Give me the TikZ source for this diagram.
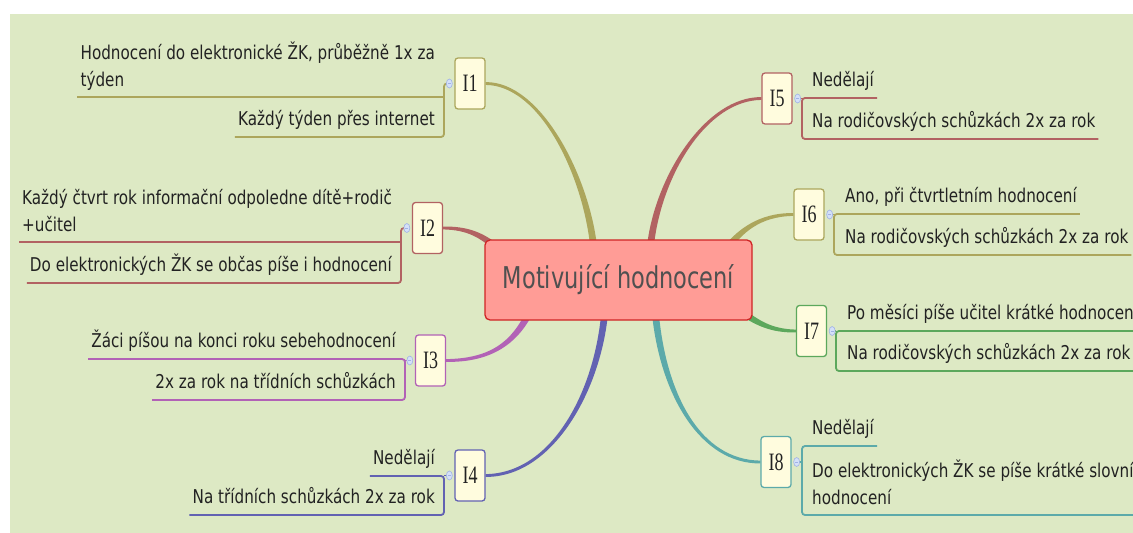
\documentclass[tikz,border=0pt]{standalone}
\usepackage{fontspec}
\usetikzlibrary{calc,shapes.geometric}
\newfontfamily\leaffont[FakeStretch=0.8]{DejaVu Sans}
\newfontfamily\rootfont[FakeStretch=0.75]{DejaVu Sans}
\newfontfamily\topicfont[FakeStretch=0.72]{Liberation Serif}

\definecolor{bgfill}{RGB}{221,233,196}
\definecolor{olive}{RGB}{172,166,92}
\definecolor{brick}{RGB}{178,98,98}
\definecolor{plum}{RGB}{178,98,182}
\definecolor{indigo}{RGB}{98,98,178}
\definecolor{leafgreen}{RGB}{92,168,92}
\definecolor{teal}{RGB}{92,170,170}
\definecolor{topicfill}{RGB}{255,252,222}
\definecolor{rootfill}{RGB}{255,156,150}
\definecolor{rootline}{RGB}{208,36,36}
\definecolor{markerfill}{RGB}{212,224,248}
\definecolor{markerline}{RGB}{160,178,230}
\definecolor{textdark}{RGB}{34,34,34}
\definecolor{roottext}{RGB}{80,80,80}

\pgfdeclarelayer{paper}
\pgfdeclarelayer{links}
\pgfsetlayers{paper,links,main}

\tikzset{
  rootbox/.style={draw=rootline, line width=1.3pt, fill=rootfill, rounded corners=5pt,
    minimum width=267pt, minimum height=80pt, inner sep=0pt,
    font=\rootfont\fontsize{30}{30}\selectfont, text=roottext},
  topic/.style={draw, line width=1.3pt, fill=topicfill, rounded corners=3pt,
    minimum width=30pt, minimum height=51pt, inner sep=0pt,
    font=\topicfont\fontsize{25}{25}\selectfont, text=textdark},
  leaf/.style={inner sep=0pt, font=\leaffont\fontsize{19}{27}\selectfont, text=textdark},
  rule/.style={line width=1.8pt},
  marker/.style={ellipse, inner sep=0pt, minimum width=6pt, minimum height=9pt,
    fill=markerfill, draw=markerline, line width=0.6pt,
    path picture={\draw[markerline, line width=0.6pt]
      ([xshift=-1.5pt]path picture bounding box.center) -- ([xshift=1.5pt]path picture bounding box.center);}},
}

% A tapered branch: fill colour, start, first control, second control, end.
% It is thin at the start and widens towards the end.
\newcommand\taperlink[5]{%
  \fill[#1] ($(#2)!1.4pt!90:(#3)$)
    .. controls ($(#3)!2pt!-90:(#2)$) and ($(#4)!3pt!90:(#5)$) .. ($(#5)!3.4pt!-90:(#4)$)
    -- ($(#5)!3.4pt!90:(#4)$)
    .. controls ($(#4)!3pt!-90:(#5)$) and ($(#3)!2pt!90:(#2)$) .. ($(#2)!1.4pt!-90:(#3)$)
    -- cycle;}

\begin{document}
\begin{tikzpicture}[x=1pt,y=-1pt]
\useasboundingbox (0,0) rectangle (1133,533);
\clip (0,0) rectangle (1133,533);
\begin{pgfonlayer}{paper}
  \fill[bgfill] (10,14) rectangle (1133,533);
\end{pgfonlayer}

% central topic
\node[rootbox] (root) at (618.5,280) {Motivující hodnocení};

% main topics
\node[topic, draw=olive]     (t1) at (470,83.5)   {I1};
\node[topic, draw=brick]     (t2) at (427.5,228)  {I2};
\node[topic, draw=plum]      (t3) at (430.5,360.5){I3};
\node[topic, draw=indigo]    (t4) at (470,475.5)  {I4};
\node[topic, draw=brick]     (t5) at (777,98.5)   {I5};
\node[topic, draw=olive]     (t6) at (809,214.5)  {I6};
\node[topic, draw=leafgreen] (t7) at (811.5,331)  {I7};
\node[topic, draw=teal]      (t8) at (776,462)    {I8};

% branch geometry: s = start at the topic, p/q = controls, e = end inside the central topic
\coordinate (s1) at (t1.east); \coordinate (e1) at ($(root.north)+(-25,6)$);
\coordinate (p1) at ($(s1)+(55,0)$); \coordinate (q1) at ($(e1)+(-8,-70)$);
\coordinate (s2) at (t2.east); \coordinate (e2) at ($(root.north west)+(12,8)$);
\coordinate (p2) at ($(s2)+(25,0)$); \coordinate (q2) at ($(e2)+(-15,-12)$);
\coordinate (s3) at (t3.east); \coordinate (e3) at ($(root.south west)+(45,-8)$);
\coordinate (p3) at ($(s3)+(45,0)$); \coordinate (q3) at ($(e3)+(-15,30)$);
\coordinate (s4) at (t4.east); \coordinate (e4) at ($(root.south)+(-14,-6)$);
\coordinate (p4) at ($(s4)+(65,0)$); \coordinate (q4) at ($(e4)+(-8,80)$);
\coordinate (s5) at (t5.west); \coordinate (e5) at ($(root.north)+(32,6)$);
\coordinate (p5) at ($(s5)+(-55,0)$); \coordinate (q5) at ($(e5)+(8,-70)$);
\coordinate (s6) at (t6.west); \coordinate (e6) at ($(root.north east)+(-25,8)$);
\coordinate (p6) at ($(s6)+(-35,0)$); \coordinate (q6) at ($(e6)+(12,-15)$);
\coordinate (s7) at (t7.west); \coordinate (e7) at ($(root.south east)+(-10,-8)$);
\coordinate (p7) at ($(s7)+(-25,0)$); \coordinate (q7) at ($(e7)+(15,10)$);
\coordinate (s8) at (t8.west); \coordinate (e8) at ($(root.south)+(37,-6)$);
\coordinate (p8) at ($(s8)+(-60,0)$); \coordinate (q8) at ($(e8)+(8,80)$);

\begin{pgfonlayer}{links}
  \taperlink{olive}{s1}{p1}{q1}{e1}
  \taperlink{brick}{s2}{p2}{q2}{e2}
  \taperlink{plum}{s3}{p3}{q3}{e3}
  \taperlink{indigo}{s4}{p4}{q4}{e4}
  \taperlink{brick}{s5}{p5}{q5}{e5}
  \taperlink{olive}{s6}{p6}{q6}{e6}
  \taperlink{leafgreen}{s7}{p7}{q7}{e7}
  \taperlink{teal}{s8}{p8}{q8}{e8}
\end{pgfonlayer}

% ---------- I1 ----------
\node[leaf, anchor=south east, align=left] (a1) at (435,95) {Hodnocení do elektronické ŽK, průběžně 1x za\\týden\strut};
\node[leaf, anchor=base east] (b1) at (435,125) {Každý týden přes internet};
\coordinate (k1) at (444,83.5);
\coordinate (k1a) at (444,97);
\coordinate (k1b) at (444,137);
\draw[rule, olive, rounded corners=3pt] ($(t1.west)+(-5,0)$) -- (k1) -- (k1b) -- ([xshift=-3pt]b1.west |- k1b);
\draw[rule, olive] (k1a) -- ([xshift=-3pt]a1.west |- k1a);
\node[marker] (m1) at ($(t1.west)+(-5,0)$) {};

% ---------- I2 ----------
\node[leaf, anchor=south east, align=left] (a2) at (392,240) {Každý čtvrt rok informační odpoledne dítě+rodič\\+učitel\strut};
\node[leaf, anchor=base east] (b2) at (392,271) {Do elektronických ŽK se občas píše i hodnocení};
\coordinate (k2) at (401,228);
\coordinate (k2a) at (401,242);
\coordinate (k2b) at (401,283);
\draw[rule, brick, rounded corners=3pt] ($(t2.west)+(-5,0)$) -- (k2) -- (k2b) -- ([xshift=-3pt]b2.west |- k2b);
\draw[rule, brick] (k2a) -- ([xshift=-3pt]a2.west |- k2a);
\node[marker] (m2) at ($(t2.west)+(-5,0)$) {};

% ---------- I3 ----------
\node[leaf, anchor=base east] (a3) at (396,347) {Žáci píšou na konci roku sebehodnocení};
\node[leaf, anchor=base east] (b3) at (396,388) {2x za rok na třídních schůzkách};
\coordinate (k3a) at (405,359);
\coordinate (k3b) at (405,400);
\draw[rule, plum, rounded corners=3pt] ([xshift=-3pt]a3.west |- k3a) -- (k3a) -- (k3b) -- ([xshift=-3pt]b3.west |- k3b);
\draw[rule, plum] ($(t3.west)+(-5,0)$) -- (405,360.5);
\node[marker] (m3) at ($(t3.west)+(-5,0)$) {};

% ---------- I4 ----------
\node[leaf, anchor=base east] (a4) at (435,464) {Nedělají};
\node[leaf, anchor=base east] (b4) at (435,503) {Na třídních schůzkách 2x za rok};
\coordinate (k4a) at (444,476);
\coordinate (k4b) at (444,515);
\draw[rule, indigo, rounded corners=3pt] ([xshift=-3pt]a4.west |- k4a) -- (k4a) -- (k4b) -- ([xshift=-3pt]b4.west |- k4b);
\draw[rule, indigo] ($(t4.west)+(-5,0)$) -- (444,475.5);
\node[marker] (m4) at ($(t4.west)+(-5,0)$) {};

% ---------- I5 ----------
\node[leaf, anchor=base west] (a5) at (812,86) {Nedělají};
\node[leaf, anchor=base west] (b5) at (812,127) {Na rodičovských schůzkách 2x za rok};
\coordinate (k5a) at (802,98);
\coordinate (k5b) at (802,139);
\draw[rule, brick, rounded corners=3pt] ([xshift=3pt]a5.east |- k5a) -- (k5a) -- (k5b) -- ([xshift=3pt]b5.east |- k5b);
\draw[rule, brick] ($(t5.east)+(5,0)$) -- (802,98.5);
\node[marker] (m5) at ($(t5.east)+(5,0)$) {};

% ---------- I6 ----------
\node[leaf, anchor=base west] (a6) at (845,202) {Ano, při čtvrtletním hodnocení};
\node[leaf, anchor=base west] (b6) at (845,243) {Na rodičovských schůzkách 2x za rok};
\coordinate (k6a) at (834,214);
\coordinate (k6b) at (834,255);
\draw[rule, olive, rounded corners=3pt] ([xshift=3pt]a6.east |- k6a) -- (k6a) -- (k6b) -- ([xshift=3pt]b6.east |- k6b);
\draw[rule, olive] ($(t6.east)+(5,0)$) -- (834,214.5);
\node[marker] (m6) at ($(t6.east)+(5,0)$) {};

% ---------- I7 ----------
\node[leaf, anchor=base west] (a7) at (847,319) {Po měsíci píše učitel krátké hodnocení};
\node[leaf, anchor=base west] (b7) at (847,359) {Na rodičovských schůzkách 2x za rok};
\coordinate (k7a) at (836,331);
\coordinate (k7b) at (836,371);
\draw[rule, leafgreen, rounded corners=3pt] ([xshift=3pt]a7.east |- k7a) -- (k7a) -- (k7b) -- ([xshift=3pt]b7.east |- k7b);
\draw[rule, leafgreen] ($(t7.east)+(5,0)$) -- (836,331);
\node[marker] (m7) at ($(t7.east)+(5,0)$) {};

% ---------- I8 ----------
\node[leaf, anchor=base west] (a8) at (812,434) {Nedělají};
\node[leaf, anchor=south west, align=left] (b8) at (812,513) {Do elektronických ŽK se píše krátké slovní\\hodnocení\strut};
\coordinate (k8a) at (802,446);
\coordinate (k8b) at (802,515);
\draw[rule, teal, rounded corners=3pt] ([xshift=3pt]a8.east |- k8a) -- (k8a) -- (k8b) -- ([xshift=3pt]b8.east |- k8b);
\draw[rule, teal] ($(t8.east)+(5,0)$) -- (802,462);
\node[marker] (m8) at ($(t8.east)+(5,0)$) {};
\end{tikzpicture}
\end{document}
